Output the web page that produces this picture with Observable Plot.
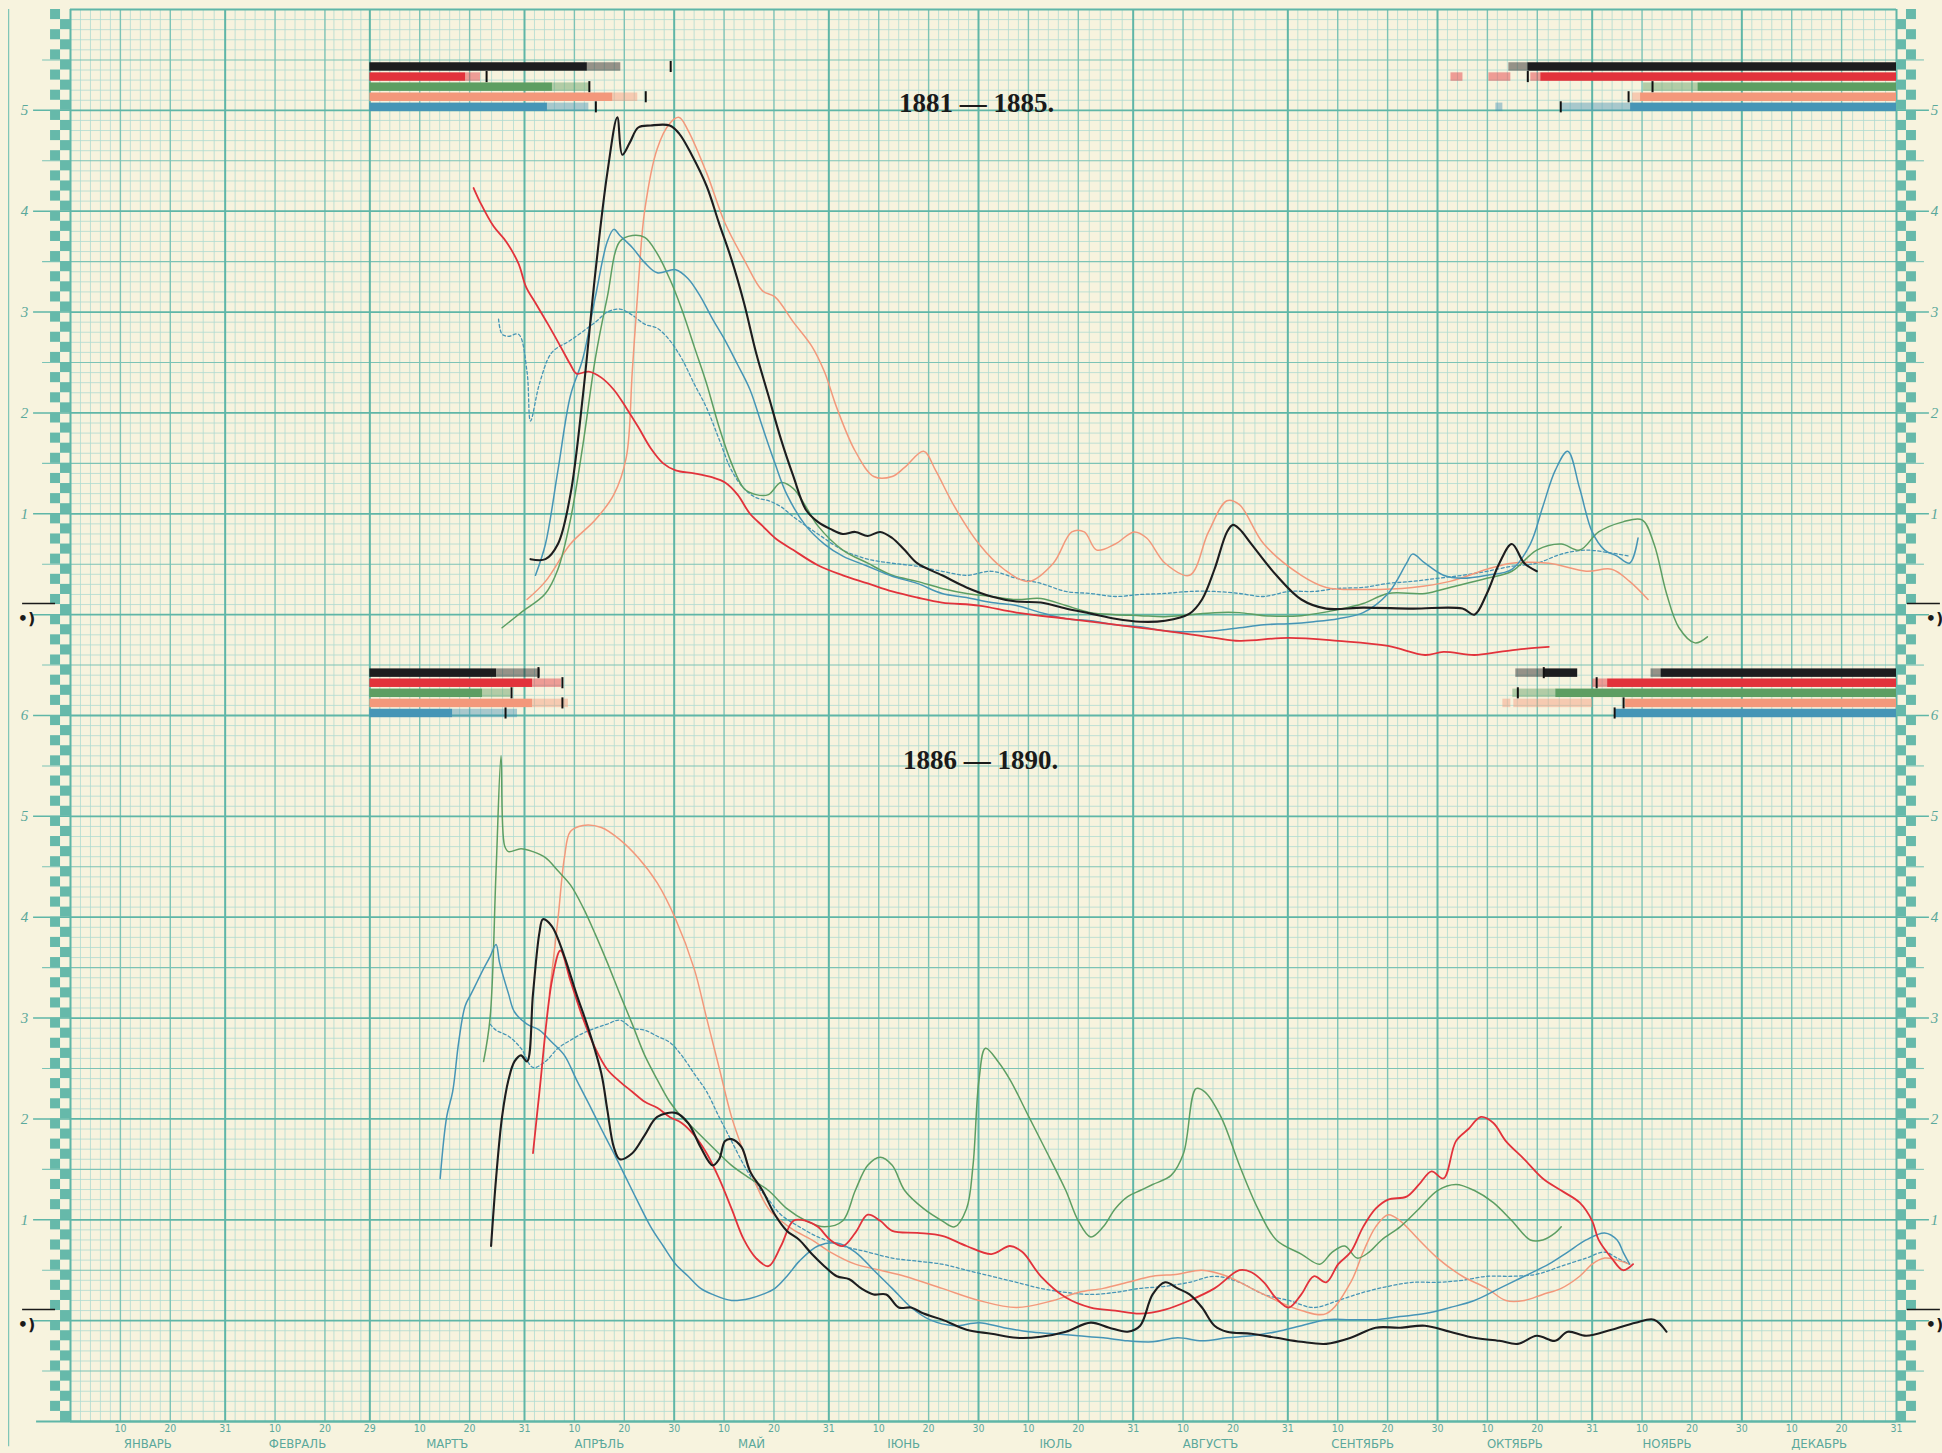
<!DOCTYPE html>
<html><head><meta charset="utf-8">
<script src="https://cdn.jsdelivr.net/npm/d3@7"></script>
<script src="https://cdn.jsdelivr.net/npm/@observablehq/plot@0.6"></script>
<style>
html,body{margin:0;padding:0;background:#f7f3de;}
#chart svg{display:block;}
</style></head><body><div id="chart"></div>
<script>
// ---------- axis data ----------
const monthNames = ["ЯНВАРЬ","ФЕВРАЛЬ","МАРТЪ","АПРѢЛЬ","МАЙ","ІЮНЬ","ІЮЛЬ","АВГУСТЪ","СЕНТЯБРЬ","ОКТЯБРЬ","НОЯБРЬ","ДЕКАБРЬ"];
const monthLengths = [31,29,31,30,31,30,31,31,30,31,30,31];
const dayTicks = [10, 20]; // plus last day of month
const yTickLabels = ["1","2","3","4","5"];
const panelTitles = ["1881 — 1885.", "1886 — 1890."];
const zeroMark = "•)";

// ---------- series: [day-of-year position, level] ----------
// 1881–1885
const topRed = [[80.8,4.23],[82.3,4.07],[84.8,3.85],[87.3,3.70],[89.8,3.48],[91.3,3.25],[93.2,3.09],[95.7,2.88],[98.2,2.66],[100.2,2.48],[101.4,2.39],[103.9,2.41],[106.4,2.35],[108.9,2.23],[111.4,2.05],[113.8,1.86],[116.3,1.65],[118.8,1.50],[121.3,1.43],[125.0,1.40],[128.7,1.36],[131.2,1.31],[133.7,1.19],[136.2,1.00],[138.7,0.88],[141.2,0.76],[144.9,0.64],[149.8,0.49],[154.8,0.39],[159.8,0.31],[164.7,0.23],[169.7,0.17],[174.7,0.12],[182.1,0.09],[189.6,0.02],[199.5,-0.04],[209.4,-0.10],[219.4,-0.16],[229.3,-0.23],[234.3,-0.26],[244.2,-0.23],[254.1,-0.26],[264.1,-0.31],[271.5,-0.40],[275.2,-0.37],[281.4,-0.40],[286.4,-0.37],[291.4,-0.34],[296.3,-0.32]];
const topBlack = [[92.2,0.55],[95.2,0.55],[97.7,0.70],[100.2,1.19],[102.7,2.17],[105.2,3.39],[107.6,4.38],[109.6,4.93],[110.6,4.56],[112.1,4.68],[113.8,4.83],[116.3,4.85],[120.1,4.85],[122.0,4.77],[124.5,4.56],[127.5,4.25],[130.0,3.88],[132.5,3.52],[135.0,3.09],[137.4,2.60],[139.9,2.17],[142.4,1.74],[144.9,1.37],[147.4,1.04],[149.8,0.92],[152.3,0.85],[154.8,0.80],[157.3,0.82],[159.8,0.78],[162.3,0.82],[164.7,0.76],[167.2,0.64],[169.7,0.51],[174.7,0.39],[179.6,0.27],[184.6,0.18],[189.6,0.13],[194.5,0.12],[199.5,0.06],[204.5,0.01],[209.4,-0.04],[214.4,-0.07],[219.4,-0.06],[224.3,0.01],[226.8,0.15],[229.3,0.45],[231.8,0.82],[233.0,0.89],[234.3,0.85],[236.7,0.70],[241.7,0.39],[246.7,0.15],[251.7,0.06],[259.1,0.07],[269.0,0.06],[279.0,0.06],[281.4,0.00],[283.9,0.21],[286.4,0.51],[288.9,0.70],[291.4,0.51],[293.9,0.43]];
const topSalmon = [[91.5,0.15],[95.2,0.33],[100.2,0.70],[105.2,0.94],[108.9,1.19],[111.4,1.56],[112.6,2.41],[113.8,3.27],[115.1,4.01],[117.6,4.62],[120.1,4.87],[122.0,4.93],[123.8,4.80],[127.5,4.38],[131.2,3.88],[135.0,3.52],[138.7,3.21],[141.2,3.15],[144.9,2.90],[148.6,2.66],[151.1,2.41],[153.6,2.05],[157.3,1.62],[161.0,1.37],[164.7,1.37],[167.2,1.46],[171.0,1.62],[173.4,1.43],[177.2,1.07],[182.1,0.70],[187.1,0.45],[192.1,0.33],[197.0,0.51],[200.7,0.82],[203.2,0.82],[205.7,0.64],[209.4,0.70],[213.2,0.82],[215.7,0.76],[219.4,0.51],[224.3,0.39],[228.1,0.82],[231.8,1.13],[234.3,1.09],[239.2,0.70],[246.7,0.39],[251.7,0.27],[259.1,0.25],[269.0,0.27],[276.5,0.33],[283.9,0.45],[288.9,0.51],[296.3,0.51],[303.8,0.43],[308.9,0.45],[312.5,0.33],[316.2,0.15]];
const topGreen = [[86.5,-0.13],[90.3,0.02],[95.2,0.21],[97.7,0.45],[100.2,0.94],[102.7,1.68],[105.2,2.54],[107.6,3.15],[110.1,3.70],[112.6,3.76],[115.1,3.74],[117.6,3.58],[120.1,3.33],[122.5,3.03],[125.0,2.66],[127.5,2.29],[130.0,1.86],[132.5,1.50],[135.0,1.25],[137.4,1.19],[139.9,1.19],[142.4,1.31],[144.9,1.25],[147.4,1.07],[149.8,0.88],[154.8,0.64],[159.8,0.51],[164.7,0.39],[169.7,0.33],[174.7,0.26],[179.6,0.21],[184.6,0.18],[189.6,0.15],[194.5,0.16],[199.5,0.09],[204.5,0.02],[209.4,0.00],[214.4,-0.01],[219.4,-0.02],[224.3,0.00],[229.3,0.02],[234.3,0.02],[239.2,-0.01],[246.7,-0.01],[254.1,0.05],[259.1,0.11],[264.1,0.21],[271.5,0.21],[276.5,0.27],[283.9,0.36],[288.9,0.43],[293.9,0.64],[298.8,0.70],[302.5,0.64],[306.3,0.82],[311.2,0.92],[315.0,0.94],[317.4,0.70],[319.9,0.21],[322.4,-0.13],[325.6,-0.28],[328.1,-0.22]];
const topBlue = [[93.2,0.39],[95.2,0.70],[97.7,1.43],[100.2,2.17],[102.7,2.54],[105.2,3.15],[107.6,3.70],[108.9,3.82],[110.1,3.76],[112.6,3.64],[115.1,3.49],[117.6,3.39],[121.3,3.42],[123.8,3.33],[126.3,3.15],[128.7,2.93],[131.2,2.72],[133.7,2.48],[136.2,2.23],[138.7,1.86],[141.2,1.50],[143.6,1.19],[147.4,0.88],[151.1,0.70],[154.8,0.58],[159.8,0.48],[164.7,0.38],[169.7,0.31],[174.7,0.21],[179.6,0.17],[184.6,0.12],[189.6,0.09],[194.5,0.02],[199.5,-0.04],[204.5,-0.06],[209.4,-0.10],[214.4,-0.12],[219.4,-0.16],[224.3,-0.17],[229.3,-0.16],[234.3,-0.13],[239.2,-0.10],[244.2,-0.09],[249.2,-0.07],[254.1,-0.04],[259.1,0.02],[264.1,0.21],[267.8,0.51],[269.0,0.60],[271.5,0.51],[275.2,0.39],[279.0,0.36],[283.9,0.39],[288.9,0.45],[292.6,0.70],[295.1,1.07],[297.6,1.43],[300.1,1.62],[302.5,1.25],[305.0,0.82],[307.5,0.64],[310.0,0.58],[312.5,0.51],[314.2,0.76]];
const topMean = [[85.8,2.93],[86.5,2.78],[87.8,2.76],[89.8,2.78],[91.5,2.41],[92.2,1.92],[94.0,2.29],[96.5,2.60],[100.2,2.72],[105.2,2.90],[107.6,3.00],[110.1,3.03],[112.6,2.97],[115.1,2.88],[117.6,2.84],[120.1,2.72],[122.5,2.54],[125.0,2.29],[127.5,2.05],[130.0,1.74],[132.5,1.43],[135.0,1.25],[137.4,1.16],[139.9,1.13],[142.4,1.07],[144.9,0.97],[149.8,0.80],[154.8,0.64],[159.8,0.55],[164.7,0.51],[169.7,0.48],[174.7,0.43],[179.6,0.39],[184.6,0.43],[189.6,0.36],[194.5,0.31],[199.5,0.23],[204.5,0.21],[209.4,0.18],[214.4,0.20],[219.4,0.21],[224.3,0.23],[229.3,0.23],[234.3,0.21],[239.2,0.18],[244.2,0.23],[249.2,0.23],[254.1,0.26],[259.1,0.27],[264.1,0.31],[269.0,0.33],[274.0,0.36],[279.0,0.39],[283.9,0.43],[288.9,0.48],[293.9,0.51],[298.8,0.60],[303.8,0.64],[308.9,0.61],[312.5,0.58]];
// 1886–1890
const botGreen = [[82.8,2.57],[84.1,3.00],[85.3,4.46],[86.3,5.60],[87.0,4.71],[87.8,4.65],[90.3,4.68],[92.7,4.65],[95.2,4.59],[97.7,4.46],[100.2,4.32],[102.7,4.10],[105.2,3.83],[107.6,3.55],[110.1,3.24],[112.6,2.94],[115.1,2.63],[117.6,2.39],[120.1,2.17],[122.5,2.02],[125.0,1.90],[128.7,1.72],[132.5,1.54],[136.2,1.41],[139.9,1.29],[143.6,1.11],[147.4,0.99],[151.1,0.93],[154.8,0.99],[157.3,1.29],[159.8,1.54],[162.3,1.62],[164.7,1.54],[167.2,1.29],[171.0,1.11],[174.7,0.99],[177.2,0.93],[179.6,1.11],[180.9,1.54],[182.1,2.39],[183.4,2.70],[185.9,2.57],[188.3,2.39],[192.1,2.02],[195.8,1.66],[199.5,1.29],[202.0,0.99],[204.5,0.83],[207.0,0.93],[209.4,1.11],[211.9,1.23],[214.4,1.29],[216.9,1.35],[220.6,1.44],[223.1,1.66],[225.6,2.30],[227.3,2.27],[230.6,2.02],[234.3,1.54],[238.0,1.11],[241.7,0.80],[246.7,0.66],[250.4,0.56],[252.9,0.68],[255.4,0.74],[257.9,0.62],[260.3,0.68],[262.8,0.80],[266.5,0.93],[270.3,1.11],[274.0,1.29],[277.7,1.35],[281.4,1.29],[285.2,1.17],[288.9,0.99],[292.6,0.80],[295.1,0.80],[297.6,0.87],[298.8,0.93]];
const botRed = [[92.7,1.66],[94.0,2.27],[96.5,3.37],[98.2,3.67],[100.2,3.37],[102.7,3.00],[105.2,2.70],[107.6,2.49],[110.1,2.37],[112.6,2.27],[115.1,2.17],[117.6,2.11],[120.1,2.02],[122.5,1.96],[125.0,1.84],[127.5,1.66],[130.0,1.41],[132.5,1.11],[135.0,0.80],[137.4,0.62],[139.9,0.54],[142.4,0.74],[144.9,0.99],[147.4,0.99],[149.8,0.93],[152.3,0.80],[154.8,0.74],[157.3,0.87],[159.8,1.05],[162.3,0.99],[164.7,0.89],[169.7,0.87],[174.7,0.84],[179.6,0.74],[184.6,0.66],[188.3,0.74],[190.8,0.68],[194.5,0.44],[199.5,0.23],[204.5,0.13],[209.4,0.10],[214.4,0.07],[219.4,0.11],[224.3,0.20],[229.3,0.32],[234.3,0.50],[236.7,0.48],[239.2,0.38],[241.7,0.22],[244.2,0.13],[246.7,0.26],[249.2,0.44],[251.7,0.38],[254.1,0.56],[256.6,0.68],[259.1,0.93],[261.6,1.11],[264.1,1.20],[267.8,1.23],[270.3,1.35],[272.8,1.48],[275.2,1.41],[277.7,1.78],[280.2,1.90],[282.7,2.02],[285.2,1.96],[287.7,1.78],[291.4,1.60],[295.1,1.41],[298.8,1.29],[302.5,1.17],[305.0,0.99],[306.3,0.80],[308.9,0.62],[311.2,0.50],[313.2,0.56]];
const botSalmon = [[96.0,3.24],[97.7,3.98],[99.0,4.59],[100.2,4.85],[102.7,4.91],[106.4,4.89],[110.1,4.77],[113.8,4.59],[117.6,4.34],[121.3,3.98],[125.0,3.49],[127.5,3.00],[130.0,2.51],[132.5,2.02],[135.0,1.66],[137.4,1.35],[139.9,1.11],[142.4,0.99],[144.9,0.90],[148.6,0.80],[152.3,0.68],[157.3,0.56],[162.3,0.50],[167.2,0.44],[174.7,0.32],[182.1,0.20],[189.6,0.13],[197.0,0.20],[202.0,0.28],[207.0,0.32],[211.9,0.38],[216.9,0.44],[221.9,0.46],[226.8,0.50],[231.8,0.44],[236.7,0.32],[241.7,0.20],[246.7,0.10],[251.7,0.07],[256.6,0.38],[259.1,0.68],[261.6,0.93],[264.1,1.05],[266.5,0.99],[270.3,0.80],[274.0,0.62],[279.0,0.44],[283.9,0.32],[287.7,0.20],[291.4,0.20],[295.1,0.26],[298.8,0.32],[302.5,0.44],[305.0,0.56],[307.5,0.62],[310.0,0.60],[312.5,0.56]];
const botBlack = [[84.3,0.74],[85.3,1.41],[86.5,2.02],[87.8,2.39],[89.0,2.57],[90.3,2.63],[91.5,2.57],[92.7,3.24],[94.0,3.85],[94.7,3.98],[96.5,3.91],[99.0,3.61],[101.4,3.24],[103.9,2.88],[106.4,2.45],[107.6,2.09],[108.9,1.72],[110.1,1.60],[112.6,1.66],[115.1,1.84],[117.6,2.02],[121.3,2.06],[123.8,1.96],[126.3,1.72],[128.7,1.54],[130.0,1.60],[131.2,1.78],[132.5,1.80],[134.5,1.72],[136.2,1.48],[138.7,1.29],[141.2,1.05],[143.6,0.89],[146.1,0.80],[148.6,0.66],[151.1,0.54],[153.6,0.44],[156.1,0.41],[158.5,0.32],[161.0,0.26],[163.5,0.26],[166.0,0.13],[168.5,0.13],[171.0,0.07],[174.7,0.01],[179.6,-0.09],[184.6,-0.13],[189.6,-0.17],[194.5,-0.16],[199.5,-0.11],[204.5,-0.02],[208.2,-0.07],[211.9,-0.11],[214.4,-0.05],[216.9,0.26],[219.4,0.38],[221.9,0.32],[224.3,0.26],[226.8,0.13],[229.3,-0.05],[231.8,-0.11],[236.7,-0.13],[241.7,-0.17],[246.7,-0.21],[251.7,-0.23],[256.6,-0.17],[261.6,-0.07],[266.5,-0.07],[271.5,-0.05],[276.5,-0.11],[281.4,-0.17],[286.4,-0.20],[290.1,-0.23],[293.9,-0.15],[297.6,-0.20],[300.1,-0.11],[303.8,-0.15],[308.9,-0.09],[313.7,-0.02],[317.4,0.01],[319.9,-0.11]];
const botBlue = [[74.1,1.41],[75.4,2.02],[76.6,2.27],[77.8,2.76],[79.1,3.12],[80.3,3.24],[81.6,3.37],[82.8,3.49],[84.1,3.61],[85.3,3.73],[86.0,3.55],[87.8,3.24],[89.0,3.06],[91.5,2.94],[94.0,2.88],[96.5,2.76],[99.0,2.63],[101.4,2.39],[103.9,2.15],[106.4,1.90],[108.9,1.66],[111.4,1.41],[113.8,1.17],[116.3,0.93],[118.8,0.74],[121.3,0.56],[123.8,0.44],[126.3,0.32],[128.7,0.26],[132.5,0.20],[136.2,0.22],[138.7,0.26],[141.2,0.32],[143.6,0.44],[146.1,0.59],[149.8,0.74],[153.6,0.77],[157.3,0.68],[161.0,0.50],[164.7,0.32],[168.5,0.13],[172.2,0.01],[177.2,-0.05],[182.1,-0.02],[187.1,-0.07],[192.1,-0.11],[197.0,-0.13],[202.0,-0.15],[207.0,-0.17],[211.9,-0.20],[216.9,-0.21],[221.9,-0.17],[226.8,-0.20],[231.8,-0.17],[236.7,-0.15],[241.7,-0.11],[246.7,-0.05],[251.7,0.01],[256.6,0.01],[261.6,0.01],[266.5,0.04],[271.5,0.07],[276.5,0.13],[281.4,0.20],[286.4,0.32],[291.4,0.44],[296.3,0.56],[300.1,0.68],[303.8,0.80],[307.5,0.87],[310.0,0.80],[311.2,0.68],[312.5,0.56]];
const botMean = [[84.1,2.94],[85.3,2.88],[87.8,2.82],[90.3,2.70],[92.7,2.51],[95.2,2.57],[97.7,2.70],[100.2,2.78],[102.7,2.85],[105.2,2.90],[107.6,2.94],[110.1,2.98],[112.6,2.90],[115.1,2.88],[117.6,2.82],[120.1,2.76],[122.5,2.63],[125.0,2.45],[127.5,2.27],[130.0,2.02],[132.5,1.78],[135.0,1.54],[137.4,1.35],[139.9,1.20],[142.4,1.05],[146.1,0.93],[149.8,0.83],[154.8,0.74],[159.8,0.68],[164.7,0.62],[169.7,0.59],[174.7,0.56],[179.6,0.50],[184.6,0.44],[189.6,0.38],[194.5,0.32],[199.5,0.28],[204.5,0.26],[209.4,0.28],[214.4,0.32],[219.4,0.34],[224.3,0.38],[229.3,0.44],[234.3,0.38],[239.2,0.26],[244.2,0.20],[249.2,0.13],[254.1,0.20],[259.1,0.28],[264.1,0.34],[269.0,0.38],[274.0,0.38],[279.0,0.40],[283.9,0.44],[288.9,0.44],[293.9,0.46],[298.8,0.54],[303.8,0.62],[307.5,0.68],[310.0,0.62],[312.5,0.56]];

// ---------- ice bars: [row, from, to] ; rows 0 black,1 red,2 green,3 salmon,4 blue ----------
const topIceSolid = [[0,60,103.6],[1,60,79.2],[2,60,96.6],[3,60,108.7],[4,60,95.6],
  [0,292.1,366],[1,294.7,366],[2,326.2,366],[3,314.7,366],[4,312.7,366]];
const topIceLight = [[0,103.6,110.3],[1,79.2,82.2],[2,96.6,104.2],[3,108.7,113.7],[4,95.6,103.9],
  [0,288.3,292.1],[1,276.7,279.1],[1,284.3,288.7],[1,292.7,294.7],[2,315.3,326.2],[3,313.1,314.7],[4,285.7,287.1],[4,298.7,312.7]];
const topIceTicks = [[0,120.3],[1,83.4],[2,104.0],[3,115.3],[4,105.3],[1,292.1],[2,317.1],[3,312.3],[4,298.7]];
const botIceSolid = [[0,60,85.4],[1,60,92.6],[2,60,82.6],[3,60,92.6],[4,60,76.6],
  [0,295.3,302.1],[0,318.8,366],[1,308.1,366],[2,297.7,366],[3,311.7,366],[4,309.5,366]];
const botIceLight = [[0,85.4,94.2],[1,92.6,98.4],[2,82.6,88.2],[3,92.6,99.8],[4,76.6,89.6],
  [0,289.7,295.3],[0,316.8,318.8],[1,305.1,308.1],[2,289.1,297.7],[3,287.1,288.7],[3,289.3,305.1]];
const botIceTicks = [[0,93.8],[1,98.6],[2,88.4],[3,98.6],[4,87.2],[0,295.3],[1,305.9],[2,290.1],[3,311.3],[4,309.5]];

// ---------- styling ----------
const C = {black:"#1d1d1f", red:"#e2323b", green:"#5d9e62", salmon:"#f3987b", blue:"#4695b6"};
const rowColors = [C.black, C.red, C.green, C.salmon, C.blue];
const TEAL = "#5fb6a7", TEAL_MED = "#7cc3b6", TEAL_MIN = "#b0dbd0", LABEL = "#5aa89b";
const OFF = 7; // vertical offset of the upper (1881–1885) panel on the shared sheet

// grid positions
const cum = [0]; monthLengths.forEach((l,i)=>cum.push(cum[i]+l));
const majorX = cum.slice();
const medX = []; cum.slice(0,12).forEach(s=>dayTicks.forEach(d=>medX.push(s+d)));
const allX = [...majorX, ...medX].sort((a,b)=>a-b);
const minorX = [];
for (let i=0;i<allX.length-1;i++){const a=allX[i],b=allX[i+1];for(let j=1;j<5;j++)minorX.push(a+j*(b-a)/5);}
const minorY=[], medY=[], majY=[];
for (let k=-10;k<=130;k++){const v=k/10; if(k%10===0)majY.push(v); else if(k%5===0)medY.push(v); else minorY.push(v);}

// checker cells
const checker=[];
for (let k=0;k<140;k++){
  const y1=-1+k/10, y2=y1+0.1;
  if(k%2===0){checker.push({x1:-2,x2:0,y1,y2});checker.push({x1:366,x2:368,y1,y2});}
  else {checker.push({x1:-4,x2:-2,y1,y2});checker.push({x1:368,x2:370,y1,y2});}
}

// labels
const dayLabels=[]; cum.slice(0,12).forEach((s,i)=>{dayTicks.forEach(d=>dayLabels.push({x:s+d,t:String(d)})); dayLabels.push({x:s+monthLengths[i],t:String(monthLengths[i])});});
const monthLabels = monthNames.map((m,i)=>({x:cum[i]+monthLengths[i]/2,t:m}));
const yLabels=[];
yTickLabels.forEach((t,i)=>{yLabels.push({y:i+1,t}); yLabels.push({y:i+1+OFF,t});});
yLabels.push({y:6,t:"6"});
const intTicks = d3.range(-1,13.01,1).filter(v=>v!==-1 && v!==13);

function barRects(arr, base){return arr.map(([r,a,b])=>({x1:a,x2:b,y1:base+(4-r)*0.1-0.042,y2:base+(4-r)*0.1+0.042,c:rowColors[r]}));}
function barTicks(arr, base){return arr.map(([r,x])=>({x,y1:base+(4-r)*0.1-0.055,y2:base+(4-r)*0.1+0.055}));}
const TOPBASE = 5.03+OFF, BOTBASE = 6.02;

function series(data, off, color, w, dash){
  return Plot.line(data,{x:d=>d[0],y:d=>d[1]+off,stroke:color,strokeWidth:w,curve:"catmull-rom",strokeDasharray:dash||null,strokeLinejoin:"round"});
}

const chart = Plot.plot({
  width:1942, height:1453, marginLeft:70, marginRight:46, marginTop:9, marginBottom:32,
  x:{domain:[0,366], axis:null},
  y:{domain:[-1,13], axis:null},
  style:{background:"#f7f3de", overflow:"visible"},
  marks:[
    // grid
    Plot.ruleX(minorX,{stroke:TEAL_MIN,strokeWidth:0.8}),
    Plot.ruleY(minorY,{x1:0,x2:366,stroke:TEAL_MIN,strokeWidth:0.8}),
    Plot.ruleX(medX,{stroke:TEAL_MED,strokeWidth:1.4}),
    Plot.ruleY(medY,{x1:-5.6,x2:366,stroke:TEAL_MED,strokeWidth:1.1}),
    Plot.ruleY(medY,{x1:366,x2:371.6,stroke:TEAL_MED,strokeWidth:1.1}),
    Plot.ruleX(majorX,{stroke:TEAL,strokeWidth:2}),
    Plot.ruleY(majY,{x1:0,x2:366,stroke:TEAL,strokeWidth:1.8}),
    Plot.ruleY(intTicks,{x1:-7.4,x2:0,stroke:TEAL,strokeWidth:1.5}),
    Plot.ruleY(intTicks,{x1:366,x2:372.6,stroke:TEAL,strokeWidth:1.5}),
    Plot.ruleY([-1],{x1:-6.8,x2:370,stroke:TEAL,strokeWidth:2}),
    Plot.ruleX([-12.4],{y1:-1.25,y2:13,stroke:TEAL_MED,strokeWidth:1.2}),
    Plot.rect(checker,{x1:"x1",x2:"x2",y1:"y1",y2:"y2",fill:"#66b9aa"}),
    // zero marks
    Plot.ruleY([0.11,0.11+OFF],{x1:-9.6,x2:-3,stroke:"#1a1a1a",strokeWidth:1.5}),
    Plot.ruleY([0.11,0.11+OFF],{x1:368.2,x2:374.8,stroke:"#1a1a1a",strokeWidth:1.5}),
    Plot.text([0,OFF],{x:-8.8,y:d=>d-0.04,text:()=>zeroMark,fill:"#1a1a1a",fontSize:16,fontWeight:"bold",fontFamily:"DejaVu Sans"}),
    Plot.text([0,OFF],{x:373.6,y:d=>d-0.04,text:()=>zeroMark,fill:"#1a1a1a",fontSize:16,fontWeight:"bold",fontFamily:"DejaVu Sans"}),
    // y labels
    Plot.text(yLabels,{x:-9.2,y:"y",text:"t",fill:LABEL,fontSize:15,fontStyle:"italic",fontFamily:"Liberation Serif"}),
    Plot.text(yLabels,{x:373.6,y:"y",text:"t",fill:LABEL,fontSize:15,fontStyle:"italic",fontFamily:"Liberation Serif"}),
    // x labels
    Plot.text(dayLabels,{x:"x",y:-1.075,text:"t",fill:LABEL,fontSize:10.5,fontFamily:"DejaVu Sans Condensed"}),
    Plot.text(monthLabels,{x:"x",y:-1.225,text:"t",fill:LABEL,fontSize:13,fontFamily:"DejaVu Sans Condensed",letterSpacing:"3px"}),
    // ice bars
    Plot.rect(barRects(topIceSolid,TOPBASE),{x1:"x1",x2:"x2",y1:"y1",y2:"y2",fill:"c"}),
    Plot.rect(barRects(topIceLight,TOPBASE),{x1:"x1",x2:"x2",y1:"y1",y2:"y2",fill:"c",fillOpacity:0.45}),
    Plot.ruleX(barTicks(topIceTicks,TOPBASE),{x:"x",y1:"y1",y2:"y2",stroke:"#111",strokeWidth:2}),
    Plot.rect(barRects(botIceSolid,BOTBASE),{x1:"x1",x2:"x2",y1:"y1",y2:"y2",fill:"c"}),
    Plot.rect(barRects(botIceLight,BOTBASE),{x1:"x1",x2:"x2",y1:"y1",y2:"y2",fill:"c",fillOpacity:0.45}),
    Plot.ruleX(barTicks(botIceTicks,BOTBASE),{x:"x",y1:"y1",y2:"y2",stroke:"#111",strokeWidth:2}),
    // titles
    Plot.text([{t:panelTitles[0],x:181.6,y:12.07},{t:panelTitles[1],x:182.4,y:5.56}],{x:"x",y:"y",text:"t",fill:"#1a1a1a",fontSize:27,fontWeight:"bold",fontFamily:"Liberation Serif"}),
    // series – upper panel
    series(topMean,OFF,C.blue,1.3,"3,2.5"),
    series(topSalmon,OFF,C.salmon,1.5),
    series(topGreen,OFF,C.green,1.5),
    series(topBlue,OFF,C.blue,1.5),
    series(topRed,OFF,C.red,1.8),
    series(topBlack,OFF,C.black,2.1),
    // series – lower panel
    series(botMean,0,C.blue,1.3,"3,2.5"),
    series(botSalmon,0,C.salmon,1.5),
    series(botGreen,0,C.green,1.5),
    series(botBlue,0,C.blue,1.5),
    series(botRed,0,C.red,1.8),
    series(botBlack,0,C.black,2.1)
  ]
});
document.getElementById("chart").appendChild(chart);
</script></body></html>
